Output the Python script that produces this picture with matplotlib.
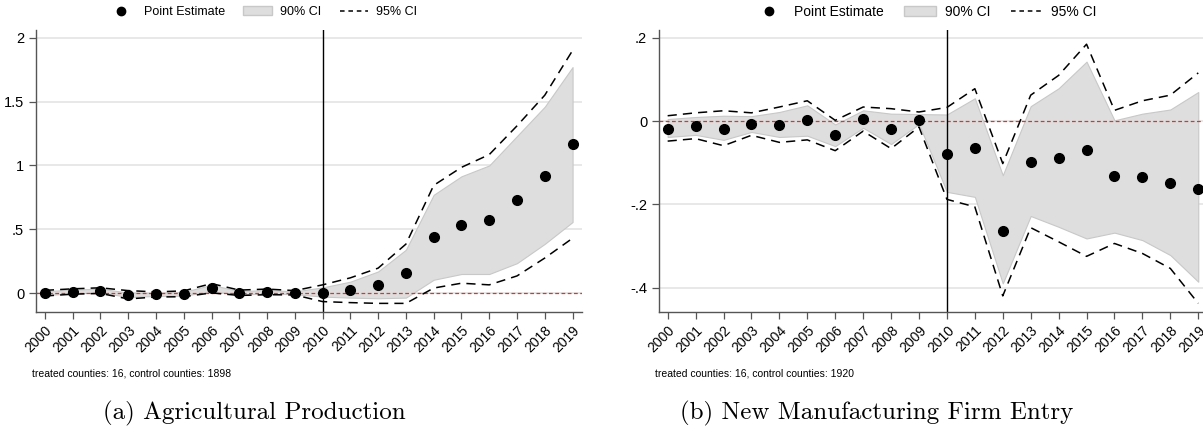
import numpy as np
import matplotlib
matplotlib.use("Agg")
import matplotlib.pyplot as plt
from matplotlib.patches import Patch
from matplotlib.lines import Line2D

years = list(range(2000, 2020))

# (a) Agricultural Production
agri_est = [0.0, 0.013, 0.02, -0.013, -0.01, -0.005, 0.04, 0.003, 0.01, 0.003,
            0.005, 0.026, 0.06, 0.157, 0.436, 0.53, 0.575, 0.73, 0.92, 1.168]
agri_lo90 = [-0.015, -0.002, 0.005, -0.03, -0.022, -0.02, 0.015, -0.01, -0.004, -0.008,
             -0.027, -0.035, -0.04, -0.035, 0.105, 0.15, 0.15, 0.235, 0.386, 0.557]
agri_hi90 = [0.015, 0.028, 0.035, 0.004, 0.002, 0.01, 0.065, 0.016, 0.024, 0.014,
             0.045, 0.09, 0.17, 0.34, 0.77, 0.915, 1.0, 1.23, 1.46, 1.77]
agri_lo95 = [-0.022, -0.008, -0.002, -0.045, -0.03, -0.028, 0.002, -0.018, -0.012, -0.014,
             -0.066, -0.074, -0.08, -0.08, 0.04, 0.078, 0.065, 0.135, 0.275, 0.43]
agri_hi95 = [0.022, 0.034, 0.042, 0.02, 0.01, 0.018, 0.075, 0.024, 0.032, 0.02,
             0.065, 0.12, 0.196, 0.384, 0.844, 0.985, 1.085, 1.31, 1.55, 1.90]

# (b) New Manufacturing Firm Entry
manu_est = [-0.018, -0.011, -0.018, -0.007, -0.009, 0.002, -0.034, 0.005, -0.019, 0.003,
            -0.078, -0.064, -0.263, -0.097, -0.088, -0.07, -0.133, -0.134, -0.148, -0.162]
manu_lo90 = [-0.038, -0.033, -0.045, -0.026, -0.038, -0.035, -0.06, -0.016, -0.055, -0.007,
             -0.17, -0.182, -0.39, -0.228, -0.254, -0.282, -0.268, -0.286, -0.322, -0.386]
manu_hi90 = [0.005, 0.01, 0.013, 0.012, 0.022, 0.038, -0.008, 0.026, 0.018, 0.017,
             0.016, 0.055, -0.13, 0.036, 0.079, 0.143, 0.002, 0.018, 0.028, 0.07]
manu_lo95 = [-0.048, -0.042, -0.059, -0.034, -0.051, -0.045, -0.071, -0.024, -0.066, -0.014,
             -0.188, -0.206, -0.42, -0.256, -0.29, -0.325, -0.294, -0.318, -0.354, -0.438]
manu_hi95 = [0.013, 0.02, 0.025, 0.02, 0.034, 0.049, 0.002, 0.034, 0.03, 0.022,
             0.033, 0.078, -0.102, 0.0625, 0.11, 0.185, 0.026, 0.049, 0.0625, 0.116]

sans = ["Liberation Sans", "DejaVu Sans"]
plt.rcParams["font.family"] = sans


def draw_panel(ax, est, lo90, hi90, lo95, hi95, yticks, ylabels, ylim, xlim,
               note, caption, leg_x, leg_size):
    ax.fill_between(years, lo90, hi90, color="#dedede", edgecolor="#c8c8c8", linewidth=0.8, zorder=1)
    ax.plot(years, lo95, color="black", ls=(0, (6, 4)), lw=1.1, zorder=3)
    ax.plot(years, hi95, color="black", ls=(0, (6, 4)), lw=1.1, zorder=3)
    ax.axhline(0, color="#e03030", ls=(0, (3, 2)), lw=0.9, zorder=2)
    ax.axvline(2010, color="black", lw=1.0, zorder=2)
    ax.plot(years, est, "o", color="black", ms=7, zorder=4)

    ax.set_xlim(*xlim)
    ax.set_ylim(*ylim)
    ax.set_yticks(yticks)
    ax.set_yticklabels(ylabels, fontsize=10.5)
    ax.set_xticks(years)
    ax.set_xticklabels([str(y) for y in years], rotation=45, ha="right",
                       rotation_mode="anchor", fontsize=10)
    ax.yaxis.grid(True, color="#e4e4e4", lw=1.2)
    ax.set_axisbelow(True)
    for s in ["top", "right"]:
        ax.spines[s].set_visible(False)
    for s in ["left", "bottom"]:
        ax.spines[s].set_color("#555555")
        ax.spines[s].set_linewidth(1.0)
    ax.tick_params(color="#555555", length=5, width=0.9)

    handles = [Line2D([], [], marker="o", ls="none", color="black", ms=6),
               Patch(facecolor="#dedede", edgecolor="#c8c8c8"),
               Line2D([], [], color="black", ls=(0, (3, 2.5)), lw=1.1)]
    ax.legend(handles, ["Point Estimate", "90% CI", "95% CI"], loc="center",
              bbox_to_anchor=(leg_x, 1.064), ncol=3, frameon=False, fontsize=leg_size,
              handlelength=2.25, columnspacing=1.5, handletextpad=0.65)

    ax.text(-0.007, -0.218, note, transform=ax.transAxes, fontsize=7.5, ha="left", va="center")
    ax.text(0.4, -0.362, caption, transform=ax.transAxes, fontsize=18, ha="center",
            va="center", family=["cmr10", "DejaVu Serif"])


fig = plt.figure(figsize=(12.03, 4.38), dpi=100)
ax1 = fig.add_axes([0.0299, 0.2884, 0.4539, 0.643])
ax2 = fig.add_axes([0.5478, 0.2884, 0.4522, 0.643])

draw_panel(ax1, agri_est, agri_lo90, agri_hi90, agri_lo95, agri_hi95,
           [0, 0.5, 1, 1.5, 2], ["0", ".5", "1", "1.5", "2"],
           (-0.145, 2.06), (1999.68, 2019.34),
           "treated counties: 16, control counties: 1898", "(a) Agricultural Production",
           0.414, 9)
draw_panel(ax2, manu_est, manu_lo90, manu_hi90, manu_lo95, manu_hi95,
           [-0.4, -0.2, 0, 0.2], ["-.4", "-.2", "0", ".2"],
           (-0.458, 0.219), (1999.69, 2019.17),
           "treated counties: 16, control counties: 1920", "(b) New Manufacturing Firm Entry",
           0.489, 10)

fig.savefig("out.png", dpi=100)
